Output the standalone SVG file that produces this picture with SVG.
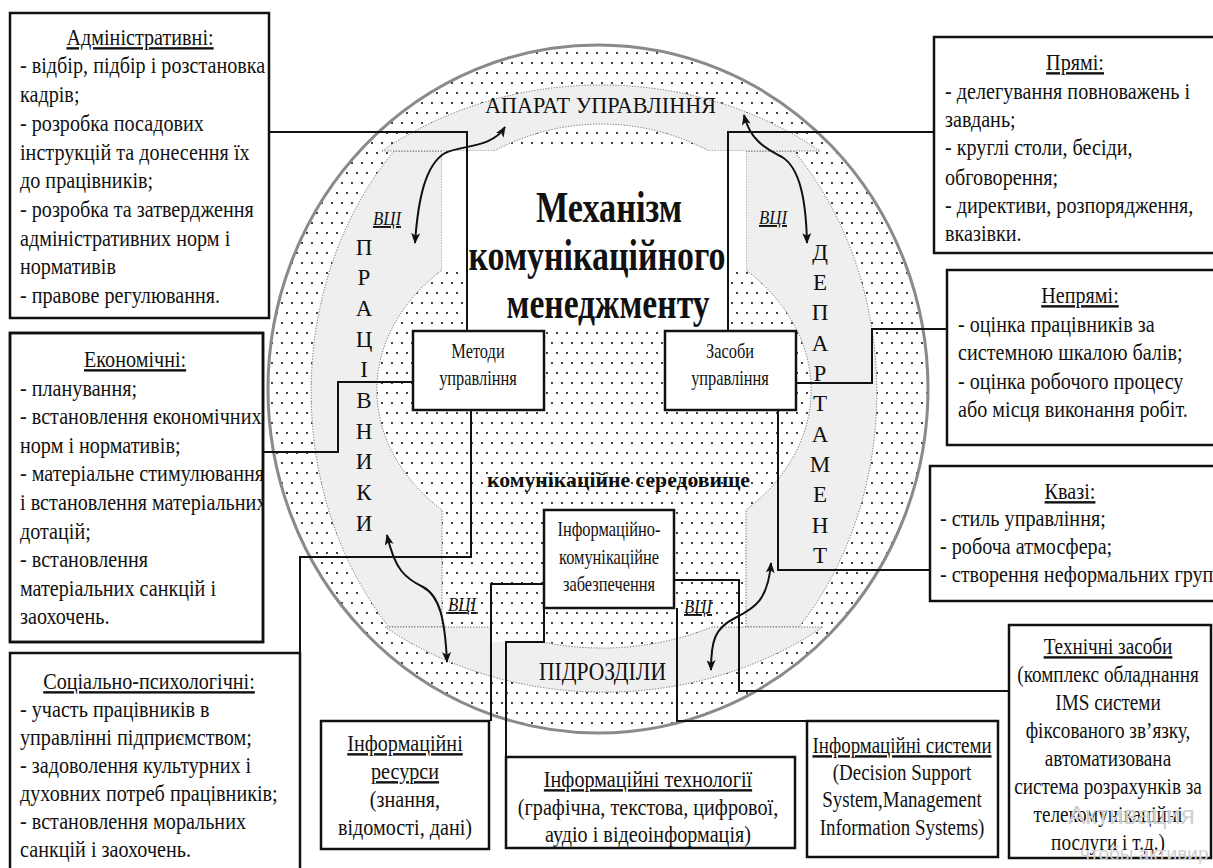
<svg xmlns="http://www.w3.org/2000/svg" width="1213" height="868" viewBox="0 0 1213 868">
<defs>
<style>
.bt{font-family:"Liberation Serif","Times New Roman",serif;font-size:24px;fill:#111}
.sm{font-family:"Liberation Serif","Times New Roman",serif;font-size:20px;fill:#111}
.u{text-decoration:underline}
.box{fill:#fff;stroke:#111;stroke-width:2.5}
.con{fill:none;stroke:#111;stroke-width:2}
.band{fill:#efefef;stroke:#6a6a6a;stroke-width:1;stroke-dasharray:1.2 1.6}
.arr{fill:none;stroke:#111;stroke-width:2;marker-start:url(#ah);marker-end:url(#ah)}
.lbl{font-family:"Liberation Serif","Times New Roman",serif;fill:#111}
.vci{font-family:"Liberation Serif","Times New Roman",serif;font-size:19px;font-style:italic;text-decoration:underline;fill:#111}
.wm{font-family:"Liberation Sans",Arial,sans-serif;fill:#cfcfcf}
</style>
<pattern id="dots" width="10" height="20" patternUnits="userSpaceOnUse">
<rect width="10" height="20" fill="#fff"/>
<circle cx="2" cy="3" r="1.05" fill="#111"/>
<circle cx="7" cy="13" r="1.05" fill="#111"/>
</pattern>
<marker id="ah" viewBox="0 0 12 10" refX="11" refY="5" markerWidth="12" markerHeight="9" markerUnits="userSpaceOnUse" orient="auto-start-reverse">
<path d="M0,0 L12,5 L0,10 L3,5 z" fill="#111"/>
</marker>
<clipPath id="clipEcon"><rect x="10" y="333" width="253" height="309"/></clipPath>
</defs>

<g id="environment">
<ellipse cx="598" cy="389" rx="330" ry="344" fill="url(#dots)" stroke="#8a8a8a" stroke-width="3"/>
<path class="band" d="M 442 151 L 394 151 A 283 341 0 0 0 389 627 L 442 627 L 442 510 A 217 168 0 0 1 442 270 Z"/>
<path class="band" d="M 746 151 L 794 151 A 283 341 0 0 1 799 627 L 746 627 L 746 510 A 217 168 0 0 0 746 270 Z"/>
<path class="band" d="M 382 151 A 353 306 0 0 1 820 151 L 709 151 A 245 266 0 0 0 494 151 Z"/>
<path class="band" d="M 385 627 A 352 300 0 0 0 823 627 L 712 627 A 281 266 0 0 1 493 627 Z"/>
<rect x="491" y="584" width="53" height="58" fill="url(#dots)"/>
<path d="M 442 151 H 746 V 272 H 728 V 331 H 467 V 272 H 442 Z" fill="#fff"/>
</g>

<g id="ring-labels">
<text class="lbl" x="485" y="113" font-size="24" textLength="231" lengthAdjust="spacingAndGlyphs">АПАРАТ УПРАВЛІННЯ</text>
<text class="lbl" x="539" y="680" font-size="26" textLength="127" lengthAdjust="spacingAndGlyphs">ПІДРОЗДІЛИ</text>
<text class="lbl" font-size="23" text-anchor="middle">
<tspan x="364" y="255">П</tspan><tspan x="364" y="285">Р</tspan><tspan x="364" y="316">А</tspan><tspan x="364" y="347">Ц</tspan><tspan x="364" y="377">І</tspan><tspan x="364" y="408">В</tspan><tspan x="364" y="439">Н</tspan><tspan x="364" y="469">И</tspan><tspan x="364" y="500">К</tspan><tspan x="364" y="531">И</tspan>
</text>
<text class="lbl" font-size="23" text-anchor="middle">
<tspan x="820" y="260">Д</tspan><tspan x="820" y="290">Е</tspan><tspan x="820" y="320">П</tspan><tspan x="820" y="351">А</tspan><tspan x="820" y="381">Р</tspan><tspan x="820" y="411">Т</tspan><tspan x="820" y="442">А</tspan><tspan x="820" y="472">М</tspan><tspan x="820" y="502">Е</tspan><tspan x="820" y="533">Н</tspan><tspan x="820" y="563">Т</tspan>
</text>
<text class="vci" x="373" y="225" textLength="28" lengthAdjust="spacingAndGlyphs">ВЦІ</text>
<text class="vci" x="759" y="224" textLength="28" lengthAdjust="spacingAndGlyphs">ВЦІ</text>
<text class="vci" x="448" y="611" textLength="28" lengthAdjust="spacingAndGlyphs">ВЦІ</text>
<text class="vci" x="684" y="613" textLength="28" lengthAdjust="spacingAndGlyphs">ВЦІ</text>
<g class="lbl" font-weight="bold" text-anchor="middle" font-size="44">
<text x="609" y="222" textLength="146" lengthAdjust="spacingAndGlyphs">Механізм</text>
<text x="597" y="270" textLength="257" lengthAdjust="spacingAndGlyphs">комунікаційного</text>
<text x="608" y="318" textLength="203" lengthAdjust="spacingAndGlyphs">менеджменту</text>
</g>
<text class="lbl" x="487" y="487" font-size="22" font-weight="bold" textLength="263" lengthAdjust="spacingAndGlyphs">комунікаційне середовище</text>
</g>

<g id="connectors">
<path class="con" d="M 269 132 H 467 V 331"/>
<path class="con" d="M 263 452 H 338 V 382 H 413"/>
<path class="con" d="M 300 653 V 557 H 471 V 410"/>
<path class="con" d="M 934 132 H 728 V 331"/>
<path class="con" d="M 796 383 H 872 V 329 H 947"/>
<path class="con" d="M 778 410 V 570 H 930"/>
<path class="con" d="M 544 584 H 491 V 721"/>
<path class="con" d="M 544 608 V 642 H 506 V 757"/>
<path class="con" d="M 677 608 V 721 H 807"/>
<path class="con" d="M 674 580 H 739 V 691 H 1009"/>
<path class="arr" d="M 415 243 C 418 200, 425 165, 445 153 C 462 145, 492 148, 505 127"/>
<path class="arr" d="M 744 115 C 750 140, 765 148, 782 157 C 800 168, 806 200, 807 243"/>
<path class="arr" d="M 387 535 C 395 570, 405 578, 423 587 C 440 596, 445 620, 447 662"/>
<path class="arr" d="M 771 563 C 768 600, 755 608, 735 618 C 715 628, 711 640, 711 670"/>
</g>

<g id="node-methods">
<rect class="box" x="413" y="331" width="131" height="79"/>
<g class="sm" text-anchor="middle" transform="translate(478 0) scale(0.82 1)">
<text x="0" y="358">Методи</text>
<text x="0" y="385">управління</text>
</g>
</g>

<g id="node-means">
<rect class="box" x="665" y="331" width="131" height="79"/>
<g class="sm" text-anchor="middle" transform="translate(730 0) scale(0.82 1)">
<text x="0" y="358">Засоби</text>
<text x="0" y="385">управління</text>
</g>
</g>

<g id="node-ict">
<rect class="box" x="544" y="510" width="130" height="98"/>
<g class="sm" text-anchor="middle" transform="translate(609 0) scale(0.82 1)">
<text x="0" y="536">Інформаційно-</text>
<text x="0" y="564">комунікаційне</text>
<text x="0" y="591">забезпечення</text>
</g>
</g>

<g id="node-admin">
<rect class="box" x="10" y="13" width="259" height="305"/>
<g class="bt" transform="translate(20 0) scale(0.84 1)">
<text class="u" x="142.9" y="45" text-anchor="middle">Адміністративні:</text>
<text x="0" y="73">- відбір, підбір і розстановка</text>
<text x="0" y="102">кадрів;</text>
<text x="0" y="131">- розробка посадових</text>
<text x="0" y="160">інструкцій та донесення їх</text>
<text x="0" y="188">до працівників;</text>
<text x="0" y="217">- розробка та затвердження</text>
<text x="0" y="246">адміністративних норм і</text>
<text x="0" y="274">нормативів</text>
<text x="0" y="303">- правове регулювання.</text>
</g>
</g>

<g id="node-econ">
<rect class="box" x="10" y="333" width="253" height="309"/>
<g clip-path="url(#clipEcon)">
<g class="bt" transform="translate(20 0) scale(0.84 1)">
<text class="u" x="137" y="367" text-anchor="middle">Економічні:</text>
<text x="0" y="396">- планування;</text>
<text x="0" y="424">- встановлення економічних</text>
<text x="0" y="453">норм і нормативів;</text>
<text x="0" y="481">- матеріальне стимулювання</text>
<text x="0" y="510">і встановлення матеріальних</text>
<text x="0" y="539">дотацій;</text>
<text x="0" y="567">- встановлення</text>
<text x="0" y="596">матеріальних санкцій і</text>
<text x="0" y="624">заохочень.</text>
</g>
</g>
<rect x="10" y="333" width="253" height="309" fill="none" stroke="#111" stroke-width="2.5"/>
</g>

<g id="node-social">
<rect class="box" x="10" y="653" width="290" height="240"/>
<g class="bt" transform="translate(20 0) scale(0.84 1)">
<text class="u" x="153.6" y="689" text-anchor="middle">Соціально-психологічні:</text>
<text x="0" y="717">- участь працівників в</text>
<text x="0" y="745">управлінні підприємством;</text>
<text x="0" y="773">- задоволення культурних і</text>
<text x="0" y="801">духовних потреб працівників;</text>
<text x="0" y="829">- встановлення моральних</text>
<text x="0" y="857">санкцій і заохочень.</text>
</g>
</g>

<g id="node-direct">
<rect class="box" x="934" y="37" width="300" height="216"/>
<g class="bt" transform="translate(945 0) scale(0.84 1)">
<text class="u" x="154.8" y="70" text-anchor="middle">Прямі:</text>
<text x="0" y="99">- делегування повноважень і</text>
<text x="0" y="127">завдань;</text>
<text x="0" y="155">- круглі столи, бесіди,</text>
<text x="0" y="185">обговорення;</text>
<text x="0" y="213">- директиви, розпорядження,</text>
<text x="0" y="241">вказівки.</text>
</g>
</g>

<g id="node-indirect">
<rect class="box" x="947" y="270" width="290" height="175"/>
<g class="bt" transform="translate(958 0) scale(0.84 1)">
<text class="u" x="145.2" y="303" text-anchor="middle">Непрямі:</text>
<text x="0" y="332">- оцінка працівників за</text>
<text x="0" y="360">системною шкалою балів;</text>
<text x="0" y="389">- оцінка робочого процесу</text>
<text x="0" y="417">або місця виконання робіт.</text>
</g>
</g>

<g id="node-quasi">
<rect class="box" x="930" y="466" width="300" height="135"/>
<g class="bt" transform="translate(940 0) scale(0.84 1)">
<text class="u" x="154.8" y="499" text-anchor="middle">Квазі:</text>
<text x="0" y="526">- стиль управління;</text>
<text x="0" y="554">- робоча атмосфера;</text>
<text x="0" y="582">- створення неформальних груп</text>
</g>
</g>

<g id="node-technical">
<rect class="box" x="1009" y="625" width="202" height="233"/>
<g class="bt" text-anchor="middle" transform="translate(1108 0) scale(0.8 1)">
<text class="u" x="0" y="654">Технічні засоби</text>
<text x="0" y="682">(комплекс обладнання</text>
<text x="0" y="710">IMS системи</text>
<text x="0" y="738">фіксованого зв’язку,</text>
<text x="0" y="766">автоматизована</text>
<text x="0" y="794">система розрахунків за</text>
<text x="0" y="822">телекомунікаційні</text>
<text x="0" y="850">послуги і т.д.)</text>
</g>
</g>

<g id="node-resources">
<rect class="box" x="321" y="721" width="168" height="128"/>
<g class="bt" text-anchor="middle" transform="translate(405 0) scale(0.84 1)">
<text class="u" x="0" y="751">Інформаційні</text>
<text class="u" x="0" y="779">ресурси</text>
<text x="0" y="807">(знання,</text>
<text x="0" y="835">відомості, дані)</text>
</g>
</g>

<g id="node-technologies">
<rect class="box" x="506" y="757" width="289" height="91"/>
<g class="bt" text-anchor="middle" transform="translate(648 0) scale(0.84 1)">
<text class="u" x="0" y="787">Інформаційні технології</text>
<text x="0" y="815">(графічна, текстова, цифрової,</text>
<text x="0" y="842">аудіо і відеоінформація)</text>
</g>
</g>

<g id="node-systems">
<rect class="box" x="807" y="721" width="191" height="136"/>
<g class="bt" text-anchor="middle" transform="translate(902 0) scale(0.79 1)">
<text class="u" x="0" y="753">Інформаційні системи</text>
<text x="0" y="780">(Decision Support</text>
<text x="0" y="807">System,Management</text>
<text x="0" y="835">Information Systems)</text>
</g>
</g>

<g id="watermark">
<text class="wm" x="1068" y="824" font-size="26">Активация</text>
<text class="wm" x="1080" y="860" font-size="19">чтобы активир</text>
</g>
</svg>
